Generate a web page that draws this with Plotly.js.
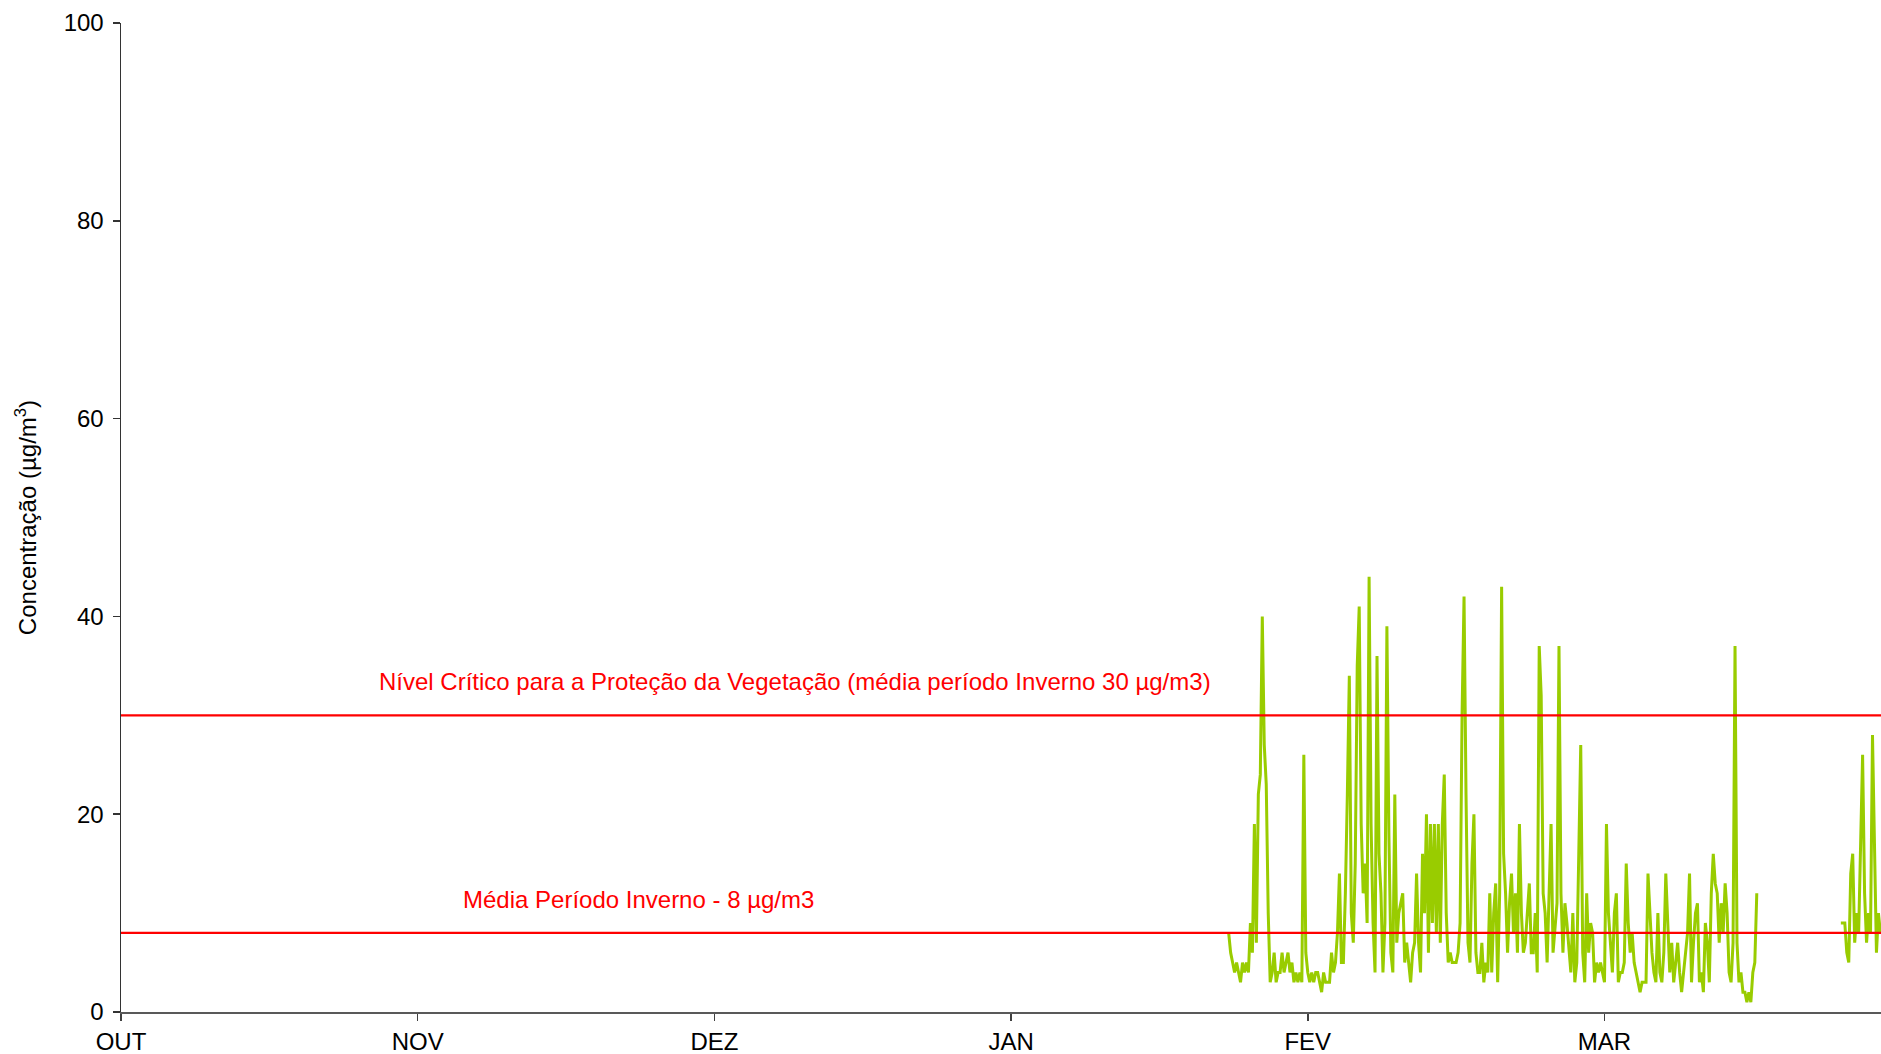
<!DOCTYPE html>
<html><head><meta charset="utf-8">
<script src="https://cdn.plot.ly/plotly-3.0.1.min.js"></script>
<style>html,body{margin:0;padding:0;background:#fff;overflow:hidden}#chart{width:1881px;height:1054px}</style>
</head><body><div id="chart"></div>
<script>
// Month tick labels (equally spaced, 30-day units)
const monthLabels = ['OUT','NOV','DEZ','JAN','FEV','MAR'];
const monthLengthDays = 30;
const sampleStepDays = 0.2;

// Concentration series, block 1 (late JAN -> mid MAR), µg/m3
const block1StartDay = 112.0;
const block1Values = [
 8,6,5,4,5,4,3,5,4,5,4,9,6,19,7,22,24,40,27,23,10,3,4,6,3,4,4,6,4,5,6,4,5,3,4,3,4,3,26,6,4,3,4,3,4,4,3,2,4,3,3,3,6,
 4,5,8,14,5,5,12,22,34,10,7,15,35,41,19,12,15,9,44,19,9,4,36,16,12,4,9,39,18,6,4,22,7,10,11,12,5,7,5,3,6,7,14,7,4,16,10,20,6,19,9,19,8,19,7,
 19,24,10,5,6,5,5,5,6,9,30,42,22,7,5,15,20,6,4,4,7,3,5,4,12,4,10,13,3,12,43,16,12,6,11,14,8,12,6,19,10,6,7,10,13,6,6,10,4,37,32,12,10,5,13,
 19,6,9,11,37,12,6,11,9,6,4,10,3,5,15,27,6,3,12,6,9,8,3,5,4,5,4,3,19,10,7,4,10,12,3,4,4,5,15,9,6,8,5,4,3,2,3,3,3,14,10,6,4,3,10,
 4,3,6,14,8,4,7,3,5,7,4,2,4,6,8,14,3,7,10,11,3,4,2,9,7,3,12,16,13,12,7,11,8,13,10,4,3,7,37,7,3,4,2,2,1,2,1,4,5,12
];
// Concentration series, block 2 (late MAR)
const block2StartDay = 173.9;
const block2Values = [9,9,9,6,5,14,16,7,10,8,19,26,12,7,10,8,28,15,6,10,8];

// Reference levels
const thresholdValues = [30, 8];
const thresholdLabels = [
 'Nível Crítico para a Proteção da Vegetação (média período Inverno 30 µg/m3)',
 'Média Período Inverno - 8 µg/m3'
];

const xMax = 177.96;
const FONT = 'Liberation Sans, Arial, sans-serif';

const xs = [], ys = [];
block1Values.forEach((v,i)=>{ xs.push(block1StartDay + i*sampleStepDays); ys.push(v); });
xs.push(null); ys.push(null);
block2Values.forEach((v,i)=>{ xs.push(block2StartDay + i*sampleStepDays); ys.push(v); });

const traces = [{
  x: xs, y: ys, type: 'scatter', mode: 'lines', connectgaps: false,
  line: {color: '#99CC00', width: 3}, hoverinfo: 'skip'
}];
thresholdValues.forEach(v => traces.push({
  x: [0, xMax], y: [v, v], type: 'scatter', mode: 'lines',
  line: {color: '#FF0000', width: 2.2}, hoverinfo: 'skip'
}));

const annPos = [[68.2, 33.4], [52.3, 11.4]];
const annotations = thresholdLabels.map((t,i)=>({
  x: annPos[i][0], y: annPos[i][1], xref: 'x', yref: 'y', text: t, showarrow: false,
  font: {family: FONT, size: 24, color: '#FF0000'}
}));

const layout = {
  width: 1881, height: 1054,
  margin: {l: 121, r: 0, t: 23, b: 42},
  paper_bgcolor: '#fff', plot_bgcolor: '#fff',
  showlegend: false,
  font: {family: FONT, size: 24, color: '#000'},
  xaxis: {
    range: [0, xMax], tickvals: monthLabels.map((_,i)=>i*monthLengthDays), ticktext: monthLabels,
    ticks: 'outside', ticklen: 7, tickcolor: '#404040', tickwidth: 1.5,
    showline: true, linecolor: '#595959', linewidth: 2,
    showgrid: false, zeroline: false, fixedrange: true,
    tickfont: {family: FONT, size: 24, color: '#000'}
  },
  yaxis: {
    range: [0, 100], tickvals: [0,20,40,60,80,100],
    ticks: 'outside', ticklen: 7, tickcolor: '#333', tickwidth: 1.5,
    showline: true, linecolor: '#333', linewidth: 1.5,
    showgrid: false, zeroline: false, fixedrange: true,
    tickfont: {family: FONT, size: 24, color: '#000'},
    ticklabelstandoff: 4,
    title: {text: 'Concentração (µg/m<sup>3</sup>)', font: {family: FONT, size: 24, color: '#000'}, standoff: 20}
  },
  annotations: annotations
};
Plotly.newPlot('chart', traces, layout, {displayModeBar: false, staticPlot: true});
</script></body></html>
